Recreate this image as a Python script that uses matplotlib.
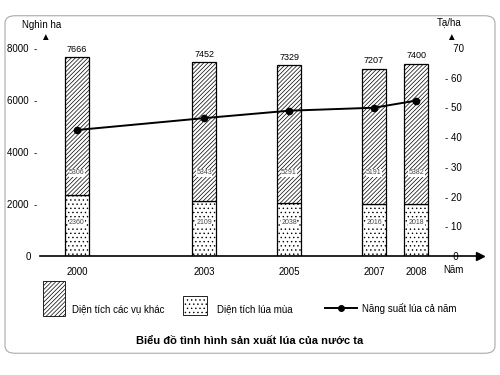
import numpy as np
import matplotlib
matplotlib.use("Agg")
import matplotlib.pyplot as plt
from matplotlib.patches import Rectangle, FancyBboxPatch
from matplotlib.lines import Line2D

plt.rcParams['font.family'] = ['Liberation Sans', 'DejaVu Sans']
plt.rcParams['hatch.linewidth'] = 0.5

# data
years = [2000, 2003, 2005, 2007, 2008]
total_area = [7666, 7452, 7329, 7207, 7400]
lua_mua = [2360, 2109, 2038, 2016, 2018]
vu_khac = [5306, 5343, 5291, 5191, 5382]
nang_suat = [42.4, 46.4, 48.9, 49.9, 52.3]

left_ticks = [0, 2000, 4000, 6000, 8000]
right_ticks = [0, 10, 20, 30, 40, 50, 60, 70]

fig = plt.figure(figsize=(5, 3.75), dpi=100)
ax = fig.add_axes([0.08, 0.3173, 0.88, 0.5547])

bw = 0.57
ax.bar(years, lua_mua, width=bw, color='white', edgecolor='black',
       hatch='....', linewidth=0.9, zorder=2)
ax.bar(years, vu_khac, width=bw, bottom=lua_mua, color='white',
       edgecolor='black', hatch='////////', linewidth=0.9, zorder=2)

for x, t, lm, vk in zip(years, total_area, lua_mua, vu_khac):
    ax.text(x, t + 120, str(t), ha='center', va='bottom', fontsize=6.5)
    ax.text(x, 3200, str(vk), ha='center', va='center', fontsize=5,
            color='#444444', zorder=3,
            bbox=dict(facecolor='white', edgecolor='none', pad=0.3))
    ax.text(x, 1300, str(lm), ha='center', va='center', fontsize=5,
            color='#444444', zorder=3,
            bbox=dict(facecolor='white', edgecolor='none', pad=0.3))

ax.set_xlim(1999.13, 2009.5)
ax.set_ylim(0, 8000)
for s in ['top', 'right', 'left']:
    ax.spines[s].set_visible(False)
ax.spines['bottom'].set_linewidth(1.2)
ax.set_yticks(left_ticks)
ax.set_yticklabels([f"{v}  -" if v > 0 else f"{v}  " for v in left_ticks])
ax.tick_params(axis='y', length=0, pad=2, labelsize=7)
ax.set_xticks(years)
ax.set_xticklabels([str(y) for y in years])
ax.tick_params(axis='x', length=0, pad=8, labelsize=7)
ax.plot([2009.5], [0], marker='>', color='black', markersize=6, clip_on=False)

ax2 = ax.twinx()
ax2.set_ylim(0, 70)
ax2.plot(years, nang_suat, color='black', linewidth=1.4, marker='o',
         markersize=4.5, zorder=4)
for s in ['top', 'right', 'left', 'bottom']:
    ax2.spines[s].set_visible(False)
ax2.set_yticks(right_ticks)
ax2.set_yticklabels([f"- {v}" if 0 < v < 70 else f"   {v}" for v in right_ticks])
ax2.tick_params(axis='y', length=0, pad=-25, labelsize=7)

# axis titles and arrows
fig.text(22 / 500, 1 - 25 / 375, "Nghìn ha", fontsize=7, va='center')
fig.text(45 / 500, 1 - 37 / 375, "▲", fontsize=7, ha='center', va='center')
fig.text(437 / 500, 1 - 22 / 375, "Tạ/ha", fontsize=7, va='center')
fig.text(451 / 500, 1 - 37 / 375, "▲", fontsize=7, ha='center', va='center')
fig.text(443 / 500, 1 - 270 / 375, "Năm", fontsize=7, va='center')

# legend
def px(x, y):
    return x / 500, 1 - y / 375

fig.add_artist(Rectangle(px(43, 316), 22 / 500, 35 / 375, transform=fig.transFigure,
                         facecolor='white', edgecolor='black', hatch='////////', linewidth=0.6))
fig.text(*px(72, 309), "Diện tích các vụ khác", fontsize=7, va='center')
fig.add_artist(Rectangle(px(183, 315), 24 / 500, 19 / 375, transform=fig.transFigure,
                         facecolor='white', edgecolor='black', hatch='....', linewidth=0.6))
fig.text(*px(217, 309), "Diện tích lúa mùa", fontsize=7, va='center')
fig.add_artist(Line2D([325 / 500, 357 / 500], [1 - 308 / 375] * 2, transform=fig.transFigure,
                      color='black', linewidth=1.4))
fig.add_artist(Line2D([341 / 500], [1 - 308 / 375], transform=fig.transFigure,
                      color='black', marker='o', markersize=4))
fig.text(*px(362, 309), "Năng suất lúa cả năm", fontsize=7, va='center')

fig.text(0.5, 1 - 341 / 375, "Biểu đồ tình hình sản xuất lúa của nước ta",
         fontsize=8, fontweight='bold', ha='center', va='center')

fig.add_artist(FancyBboxPatch((0.01, 0.058), 0.98, 0.9, transform=fig.transFigure,
                              boxstyle="round,pad=0,rounding_size=0.02",
                              facecolor='none', edgecolor='#aaaaaa', linewidth=0.8))

fig.savefig("out.png", dpi=100)
